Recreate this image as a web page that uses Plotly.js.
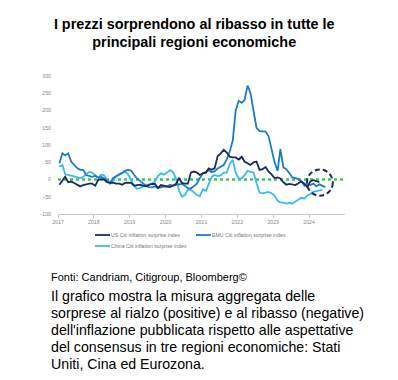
<!DOCTYPE html>
<html>
<head>
<meta charset="utf-8">
<script src="https://cdn.plot.ly/plotly-3.0.1.min.js"></script>
<style>
html,body{margin:0;padding:0;background:#fff;}
#chart{width:398px;height:380px;}
</style>
</head>
<body>
<div id="chart"></div>
<script>
// ---- Data (monthly, starting January 2017) ----
const startYear = 2017;
const seriesNames = ["US Citi inflation surprise index", "EMU Citi inflation surprise index", "China Citi inflation surprise index"];

const usValues = [-15,-2,8,-8,-6,-10,-15,-20,-16,-13,-12,-12,
  -18,-1,1,0,-8,-10,-9,-12,-12,-15,-10,-9,
  -10,-18,-16,-15,-18,-20,-16,-13,-13,-25,-16,-18,
  -20,-22,-18,-15,5,-10,-12,-12,20,23,20,13,
  18,20,32,28,33,68,75,86,78,66,64,64,
  58,66,52,47,42,50,52,28,30,36,23,15,
  4,6,3,-8,-15,-13,-14,-16,-11,-6,-12,-22,
  -5,-2,-5,-8];

const emuValues = [47,76,70,76,52,42,33,28,28,13,11,8,
  11,5,8,3,-2,-10,4,9,13,18,25,28,
  26,12,3,-4,-12,-18,-22,-23,-20,-24,-23,-20,
  -21,-15,-18,-12,-15,-12,-18,-25,-26,-18,-12,4,
  18,22,27,21,24,32,36,42,58,81,112,200,
  228,222,230,272,250,200,150,140,140,139,125,85,
  50,25,88,35,30,18,6,4,1,-5,-18,-12,
  -16,-12,-20,-14,-17,-22];

const chinaValues = [38,42,15,12,11,9,6,4,8,14,22,20,
  12,5,14,12,-2,-12,-5,9,16,20,23,15,
  0,-18,-27,-25,-20,-15,-15,-12,-6,10,18,14,
  20,27,22,4,-30,-50,-45,-30,-30,-38,-45,-48,
  -28,-33,-15,8,13,10,12,20,20,45,57,20,
  3,4,12,25,22,20,-10,-38,-40,-38,-36,-40,
  -47,-62,-66,-67,-70,-67,-70,-64,-58,-53,-55,-47,
  -42,-35,-34,-33,-30];

const yearTicks = [2017,2018,2019,2020,2021,2022,2023,2024];

// highlighted recent period (dashed circle)
const highlightPeriod = ["2023-12-10", "2024-08-30"];
const highlightRange = [-47, 29];

const titleText = "I prezzi sorprendono al ribasso in tutte le<br>principali regioni economiche";
const sourceText = "Fonti: Candriam, Citigroup, Bloomberg©";
const captionLines = [
  "Il grafico mostra la misura aggregata delle",
  "sorprese al rialzo (positive) e al ribasso (negative)",
  "dell'inflazione pubblicata rispetto alle aspettative",
  "del consensus in tre regioni economiche: Stati",
  "Uniti, Cina ed Eurozona."
];

function monthDates(n){
  const out = [];
  for(let i=0;i<n;i++){
    const y = startYear + Math.floor(i/12);
    const m = (i%12)+1;
    out.push(y + "-" + (m<10?"0":"") + m + "-15");
  }
  return out;
}

const colors = ["#1b2b60", "#1b7bcc", "#35bdf0"];
const valuesList = [usValues, emuValues, chinaValues];

const traces = valuesList.map((v,i)=>({
  type: "scatter",
  mode: "lines",
  name: seriesNames[i],
  x: monthDates(v.length),
  y: v,
  line: {color: colors[i], width: 1.8},
  showlegend:false
}));
const ordered = [traces[2], traces[1], traces[0]];

const L = 58, R = 53, T = 76, B = 166;
const PW = 398 - L - R, PH = 380 - T - B;
function px(xpix){ return (xpix - L)/PW; }
function py(ypix){ return (380 - B - ypix)/PH; }

const FONT = "Liberation Sans, Arial, sans-serif";
const annotations = [];
const shapes = [
  {type:"line", xref:"paper", yref:"y", x0:0, x1:1, y0:0, y1:0,
   line:{color:"#33cc55", width:2.4, dash:"dot"}, layer:"below"},
  {type:"circle", xref:"x", yref:"y",
   x0:highlightPeriod[0], x1:highlightPeriod[1], y0:highlightRange[0], y1:highlightRange[1],
   line:{color:"#1b2b60", width:2, dash:"5px,3px"}, layer:"above"}
];

// legend (two entries on first row, one on second)
const legendPos = [[95,235],[196,235],[95,246]];
seriesNames.forEach((name,i)=>{
  const [lx,ly] = legendPos[i];
  shapes.push({type:"line", xref:"paper", yref:"paper",
    x0:px(lx), x1:px(lx+15), y0:py(ly), y1:py(ly),
    line:{color:colors[i], width:1.8}});
  annotations.push({xref:"paper", yref:"paper", x:px(lx+15), y:py(ly),
    xanchor:"left", yanchor:"middle", showarrow:false, borderpad:0,
    text:name, font:{family:FONT, size:5.2, color:"#777"}});
});

annotations.push({
  xref:"paper", yref:"paper", x: px(50), y: py(277),
  xanchor:"left", yanchor:"middle", showarrow:false, borderpad:0,
  text: sourceText,
  font:{family:FONT, size:11, color:"#000"}
});
captionLines.forEach((t,i)=>{
  annotations.push({
    xref:"paper", yref:"paper", x: px(50), y: py(296 + i*17),
    xanchor:"left", yanchor:"middle", showarrow:false, borderpad:0,
    text: t,
    font:{family:FONT, size:14.2, color:"#000"}
  });
});

const layout = {
  width: 398, height: 380,
  margin: {l:L, r:R, t:T, b:B, pad:0},
  paper_bgcolor:"#fff", plot_bgcolor:"#fff",
  title: {
    text: titleText,
    x: 0.488, xref:"container", xanchor:"center",
    y: 0.925, yref:"container", yanchor:"top",
    font:{family:FONT, size:14.4, color:"#000", weight:"bold"}
  },
  showlegend: false,
  xaxis: {
    type:"date",
    range:["2017-01-01","2025-01-01"],
    tickvals: yearTicks.map(y=>y+"-01-01"),
    ticktext: yearTicks.map(String),
    showgrid:false, zeroline:false,
    showline:true, linecolor:"#c8c8c8", linewidth:1,
    ticks:"outside", ticklen:3, tickcolor:"#c8c8c8",
    tickfont:{family:FONT, size:5.2, color:"#888"},
    fixedrange:true
  },
  yaxis: {
    range:[-100,300],
    dtick:50, tick0:0,
    showgrid:false, zeroline:false, showline:false,
    ticks:"", ticklabelstandoff:6,
    tickfont:{family:FONT, size:5.2, color:"#888"},
    fixedrange:true
  },
  shapes: shapes,
  annotations: annotations
};

Plotly.newPlot("chart", ordered, layout, {displayModeBar:false, staticPlot:true});
</script>
</body>
</html>
